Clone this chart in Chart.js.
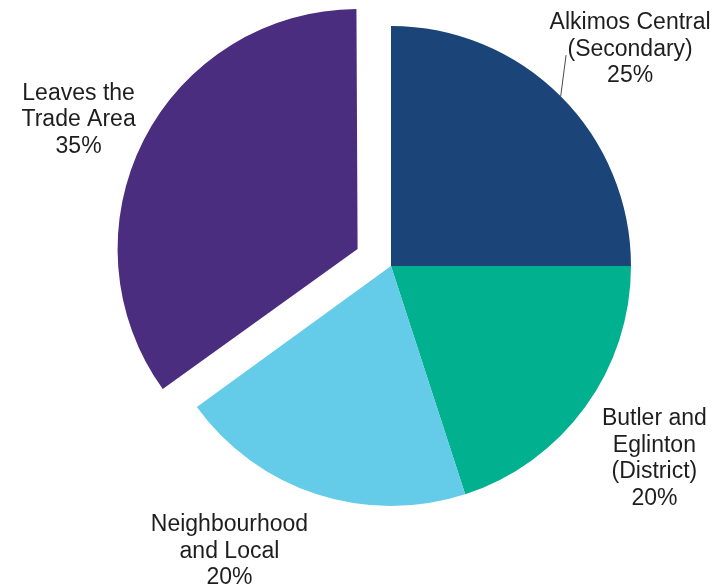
<!DOCTYPE html>
<html>
<head>
<meta charset="utf-8">
<script src="https://cdn.jsdelivr.net/npm/chart.js@4.4.0/dist/chart.umd.min.js"></script>
<style>
    html, body { margin: 0; padding: 0; background: #ffffff; }
    #wrap { width: 712px; height: 588px; }
</style>
</head>
<body>
<div id="wrap"><canvas id="myChart" width="712" height="588"></canvas></div>
<script>
// slice names (one array entry per printed line) and shares
var labelLines = [
    ["Alkimos Central", "(Secondary)"],
    ["Butler and", "Eglinton", "(District)"],
    ["Neighbourhood", "and Local"],
    ["Leaves the", "Trade Area"]
];
var shares = [25, 20, 20, 35];
var sliceColors = ["#1b4579", "#00b08f", "#64cbe8", "#4b2d80"];
// only the last slice is pulled out
var pullOut = [0, 0, 0, 150];

// label placement, per slice: distance (x radius) and turn from the slice middle (deg)
var labelDist = [1.345, 1.36, 1.367, 1.32];
var labelTurn = [2.8, 0.2, 11.5, -2.2];

var FONT_SIZE = 23;
var LINE_H = 26.5;

// chart.js grows an exploded arc a little; keep it the same radius as the rest
var keepRadius = {
    id: "keepRadius",
    afterDatasetUpdate: function (chart, args) {
        var meta = chart.getDatasetMeta(args.index);
        meta.data.forEach(function (arc, i) {
            var off = (pullOut[i] || 0) / 4;
            if (!off) return;
            var circ = arc.endAngle - arc.startAngle;
            var fix = 1 - Math.sin(Math.min(Math.PI, circ));
            arc.outerRadius = arc.outerRadius - off * fix;
        });
    }
};

var sliceLabels = {
    id: "sliceLabels",
    afterDatasetsDraw: function (chart) {
        var ctx = chart.ctx;
        var meta = chart.getDatasetMeta(0);
        ctx.save();
        ctx.font = FONT_SIZE + "px 'Liberation Sans', Arial, sans-serif";
        ctx.fillStyle = "#1e1e1e";
        ctx.textAlign = "center";
        ctx.textBaseline = "middle";
        meta.data.forEach(function (arc, i) {
            var mid = (arc.startAngle + arc.endAngle) / 2;
            var off = (pullOut[i] || 0) / 4;
            var cx = arc.x + Math.cos(mid) * off;
            var cy = arc.y + Math.sin(mid) * off;
            var a = mid + labelTurn[i] * Math.PI / 180;
            var r = arc.outerRadius * labelDist[i];
            var lx = cx + Math.cos(a) * r;
            var ly = cy + Math.sin(a) * r;
            var lines = labelLines[i].concat([shares[i] + "%"]);
            var top = ly - (lines.length - 1) * LINE_H / 2;
            lines.forEach(function (t, k) {
                ctx.fillText(t, lx, top + k * LINE_H);
            });
            // leader line for the first slice
            if (i === 0) {
                var a2 = mid - 5.3 * Math.PI / 180;
                ctx.strokeStyle = "#4a4a4a";
                ctx.lineWidth = 1;
                ctx.beginPath();
                ctx.moveTo(cx + Math.cos(mid) * arc.outerRadius, cy + Math.sin(mid) * arc.outerRadius);
                ctx.lineTo(cx + Math.cos(a2) * arc.outerRadius * 1.142, cy + Math.sin(a2) * arc.outerRadius * 1.142);
                ctx.stroke();
            }
        });
        ctx.restore();
    }
};

var config = {
    type: "pie",
    data: {
        labels: labelLines.map(function (l) { return l.join(" "); }),
        datasets: [
            {
                data: shares,
                backgroundColor: sliceColors,
                borderWidth: 0,
                offset: pullOut
            }
        ]
    },
    options: {
        responsive: false,
        animation: false,
        events: [],
        radius: 240,
        layout: { padding: { left: 70, right: 0, top: 0, bottom: 56 } },
        plugins: {
            legend: { display: false },
            tooltip: { enabled: false }
        }
    },
    plugins: [keepRadius, sliceLabels]
};

var ctx = document.getElementById("myChart").getContext("2d");
var myChart = new Chart(ctx, config);
</script>
</body>
</html>
